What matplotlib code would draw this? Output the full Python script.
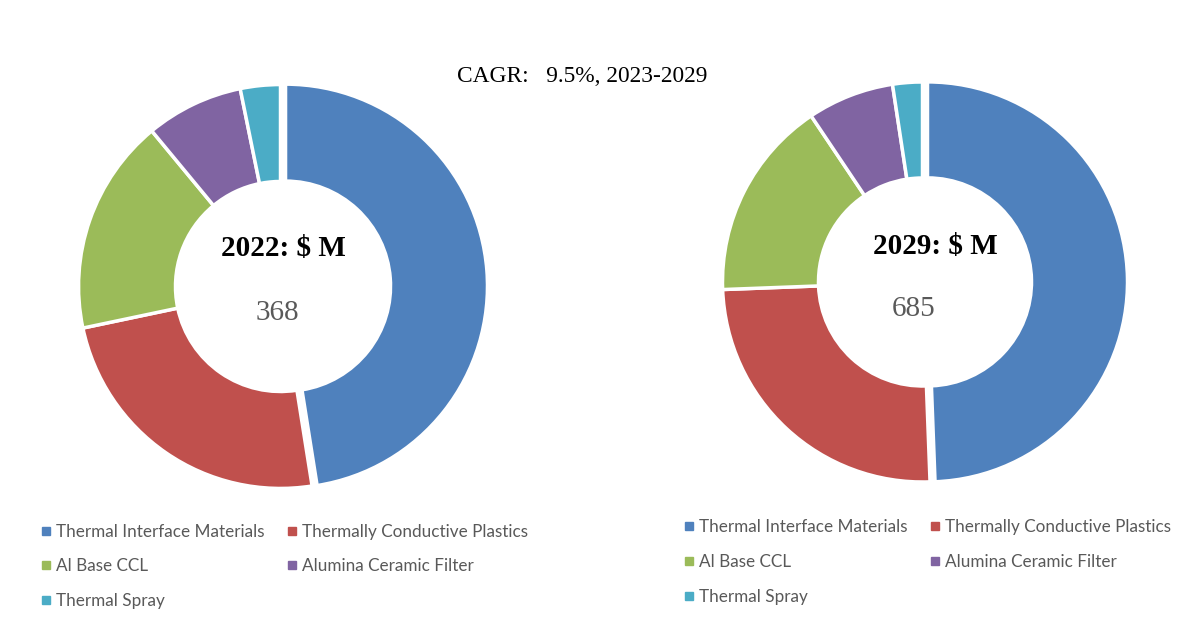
import matplotlib
matplotlib.use("Agg")
import matplotlib.pyplot as plt
from matplotlib.lines import Line2D

categories = ["Thermal Interface Materials", "Thermally Conductive Plastics",
              "Al Base CCL", "Alumina Ceramic Filter", "Thermal Spray"]
share_2022 = [47.5, 24.2, 17.3, 7.8, 3.2]
share_2029 = [49.4, 25.0, 16.2, 7.0, 2.4]
total_2022 = "368"
total_2029 = "685"
cagr_text = "CAGR:   9.5%, 2023-2029"
colors = ["#4F81BD", "#C0504D", "#9BBB59", "#8064A2", "#4BACC6"]

W, H = 1204, 627
fig = plt.figure(figsize=(W / 100, H / 100), dpi=100)
fig.patch.set_facecolor("white")


def fx(px):
    return px / W


def fy(py):
    return 1 - py / H


def donut(cx, cy, r, values):
    ax = fig.add_axes([fx(cx - r), fy(cy + r), 2 * r / W, 2 * r / H])
    ax.pie(values, colors=colors, startangle=90, counterclock=False,
           radius=1.0, explode=[0.025, 0, 0, 0, 0],
           wedgeprops=dict(width=0.48, edgecolor="white", linewidth=2.5))
    ax.set_xlim(-1.03, 1.03)
    ax.set_ylim(-1.03, 1.03)
    ax.set_aspect("auto")
    ax.axis("off")
    return ax


donut(280.5, 286.5, 208, share_2022)
donut(922.5, 282, 206, share_2029)

serif = "Liberation Serif"
fig.text(fx(582), fy(77), cagr_text, ha="center", va="center",
         family=serif, fontsize=16.8, color="black")
fig.text(fx(283), fy(249), "2022: $ M", ha="center", va="center",
         family=serif, fontsize=21, fontweight="bold", color="black")
fig.text(fx(277), fy(313), total_2022, ha="center", va="center",
         family=serif, fontsize=21, color="#595959")
fig.text(fx(935), fy(247), "2029: $ M", ha="center", va="center",
         family=serif, fontsize=21, fontweight="bold", color="black")
fig.text(fx(914), fy(309), total_2029, ha="center", va="center",
         family=serif, fontsize=21, color="#595959")

handles = [Line2D([], [], marker="s", linestyle="none", markersize=5.5,
                  markerfacecolor=c, markeredgecolor=c) for c in colors]
# legend is filled row-wise in the reference; matplotlib fills column-wise
order = [0, 2, 4, 1, 3]

for (x0, y0, sp) in [(41, 524, 1.07), (684, 519, 1.1)]:
    fig.legend([handles[i] for i in order], [categories[i] for i in order],
               ncol=2, loc="upper left",
               bbox_to_anchor=(fx(x0), fy(y0)), frameon=False,
               prop=dict(family="Lato", size=12.3),
               labelcolor="#595959", handlelength=0.6,
               handletextpad=0.3, columnspacing=1.3,
               labelspacing=sp, borderaxespad=0, borderpad=0)

fig.savefig("out.png", dpi=100, facecolor="white")
